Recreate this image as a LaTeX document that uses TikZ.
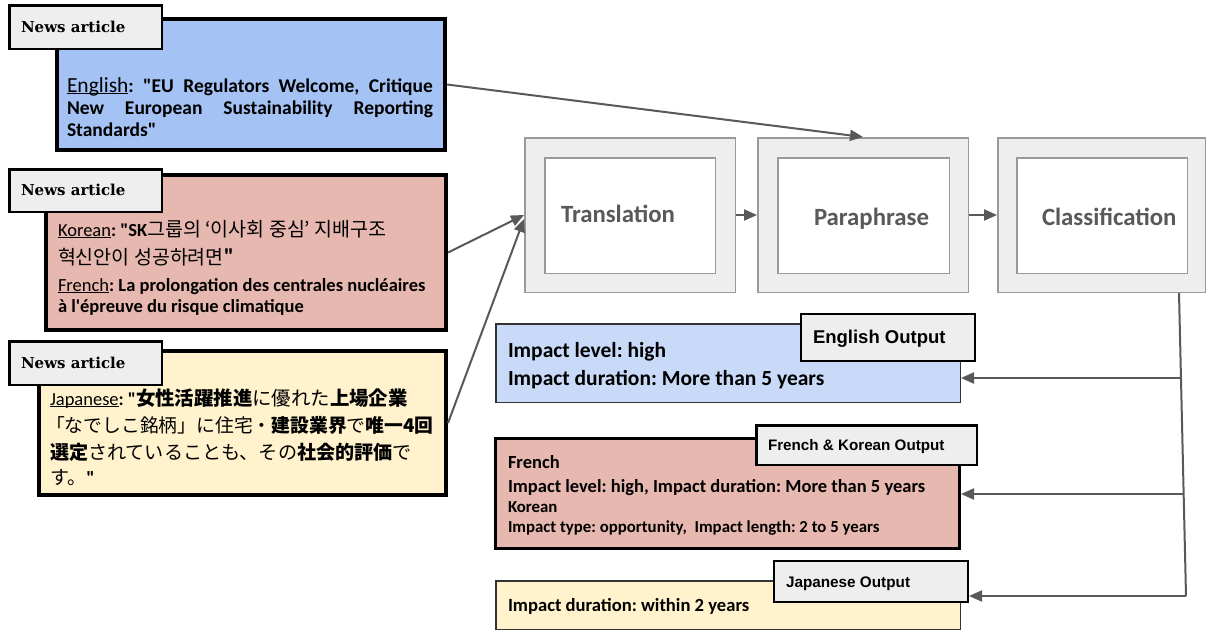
\documentclass[tikz,border=0pt]{standalone}
\usepackage{fontspec}
\usetikzlibrary{arrows.meta,calc}
\newfontfamily\calf{Carlito}
\newfontfamily\arf{Liberation Sans}
\newfontfamily\serf{DejaVu Serif}
\newfontfamily\krf{Noto Sans CJK KR}
\newfontfamily\jpf{Noto Sans CJK JP}
\AtBeginDocument{\frenchspacing}
\newcommand\myfs[1]{\fontsize{#1}{#1}\selectfont}
\newcommand\myul[1]{\setbox0\hbox{#1}\rlap{\rule[-2.4pt]{\wd0}{1.3pt}}\box0}
\definecolor{srcblue}{HTML}{A4C2F4}
\definecolor{outblue}{HTML}{C9DAF8}
\definecolor{srcpink}{HTML}{E6B8AF}
\definecolor{srcyellow}{HTML}{FFF2CC}
\definecolor{lblgray}{HTML}{EEEEEE}
\definecolor{procline}{HTML}{9A9A9A}
\definecolor{conn}{HTML}{595959}
\tikzset{
  srcbox/.style={draw=black, line width=4pt, anchor=north west, inner sep=0pt},
  lblbox/.style={draw=black, line width=2.5pt, fill=lblgray, anchor=north west, inner sep=0pt},
  procouter/.style={draw=procline, line width=1.5pt, fill=lblgray, anchor=north west, inner sep=0pt},
  procinner/.style={draw=procline, line width=1.5pt, fill=white, anchor=north west, inner sep=0pt},
  txt/.style={anchor=base west, inner sep=0pt, outer sep=0pt, execute at begin node=\frenchspacing},
  proctxt/.style={txt, text=conn, font=\calf\bfseries\myfs{24.8}},
  lbltxt/.style={txt, font=\serf\bfseries\myfs{15}},
  conarrow/.style={draw=conn, line width=2pt, -{Triangle[length=13pt,width=11pt]}},
  conline/.style={draw=conn, line width=2pt},
}
\begin{document}
\begin{tikzpicture}[x=1pt,y=-1pt]
\useasboundingbox (0,0) rectangle (1207,630);
\fill[white] (0,0) rectangle (1207,630);

% ---- source boxes
\node[srcbox, fill=srcblue, minimum width=388pt, minimum height=131pt] (eng) at (55,17) {};
\node[srcbox, fill=srcpink, minimum width=400pt, minimum height=155pt] (kor) at (44,173) {};
\node[srcbox, fill=srcyellow, minimum width=407pt, minimum height=144pt] (jap) at (37,349) {};

\node[lblbox, minimum width=152.5pt, minimum height=43.5pt] (lab1) at (8,4) {};
\node[lblbox, minimum width=152.5pt, minimum height=42.5pt] (lab2) at (8,168) {};
\node[lblbox, minimum width=152.5pt, minimum height=43.5pt] (lab3) at (8,340) {};
\node[lbltxt] (lab1t) at (21,32) {News article};
\node[lbltxt] (lab2t) at (21,195) {News article};
\node[lbltxt] (lab3t) at (21,368) {News article};

% English text
\node[txt] (e1) at (67,92) {\hbox to 366pt{\calf\myfs{21.5}\myul{English}\myfs{19.5}\bfseries:\hfill"EU\hfill Regulators\hfill Welcome,\hfill Critique}};
\node[txt] (e2) at (67,114) {\hbox to 366pt{\calf\bfseries\myfs{19.5}New\hfill European\hfill Sustainability\hfill Reporting}};
\node[txt] (e3) at (67,136) {\calf\bfseries\myfs{19.5}Standards"};

% Korean / French text
\node[txt] (k1) at (58,236) {{\calf\myfs{18.5}\myul{Korean}\bfseries: "SK}{\krf\myfs{19.5}그룹의 ‘이사회 중심’ 지배구조}};
\node[txt] (k2) at (58,264) {{\krf\myfs{19.5}혁신안이 성공하려면}{\calf\bfseries\myfs{23}"}};
\node[txt] (k3) at (58,291) {\calf\myfs{18.5}\myul{French}\bfseries: La prolongation des centrales nucléaires};
\node[txt] (k4) at (58,312) {\calf\bfseries\myfs{18.5}à l'épreuve du risque climatique};

% Japanese text
\node[txt] (j1) at (50,405) {{\calf\myfs{18.5}\myul{Japanese}\bfseries: "}{\jpf\myfs{19.4}\bfseries 女性活躍推進\mdseries に優れた\bfseries 上場企業}};
\node[txt] (j2) at (46,432) {\jpf\myfs{18.8}「なでしこ銘柄」に住宅・\bfseries 建設業界\mdseries で\bfseries 唯一4回};
\node[txt] (j3) at (50,459) {\jpf\myfs{19.1}\bfseries 選定\mdseries されていることも、その\bfseries 社会的評価\mdseries で};
\node[txt] (j4) at (50,484) {{\jpf\myfs{19.1}す。}{\calf\bfseries\myfs{19}"}};

% ---- process boxes
\node[procouter, minimum width=210.5pt, minimum height=154.5pt] (trans) at (524,137) {};
\node[procinner, minimum width=170.5pt, minimum height=115.5pt] (transin) at (544,157) {};
\node[procouter, minimum width=210.5pt, minimum height=154.5pt] (para) at (757,137) {};
\node[procinner, minimum width=171.5pt, minimum height=115.5pt] (parain) at (777,157) {};
\node[procouter, minimum width=207.5pt, minimum height=154.5pt] (cls) at (997,137) {};
\node[procinner, minimum width=170.5pt, minimum height=115.5pt] (clsin) at (1016,157) {};
\node[proctxt] (transt) at (561,222.5) {Translation};
\node[proctxt] (parat) at (814,225) {Paraphrase};
\node[proctxt] (clst) at (1042,225) {Classification};

% ---- output boxes
\node[anchor=north west, inner sep=0pt, draw=black!80, line width=1.5pt, fill=outblue, minimum width=464.5pt, minimum height=78.5pt] (engout) at (495,323) {};
\node[anchor=north west, inner sep=0pt, draw=black, line width=2pt, fill=lblgray, minimum width=174pt, minimum height=47pt] (englab) at (800,313) {};
\node[txt, font=\calf\bfseries\myfs{21.5}] (eo1) at (508,357) {Impact level: high};
\node[txt, font=\calf\bfseries\myfs{21.5}] (eo2) at (508,385) {Impact duration: More than 5 years};
\node[txt, font=\arf\bfseries\myfs{18.5}] (englabt) at (813,343) {English Output};

\node[anchor=north west, inner sep=0pt, draw=black, line width=3pt, fill=srcpink, minimum width=464pt, minimum height=110pt] (frout) at (494,437) {};
\node[anchor=north west, inner sep=0pt, draw=black, line width=2.5pt, fill=lblgray, minimum width=220.5pt, minimum height=39.5pt] (frlab) at (755,424) {};
\node[txt, font=\calf\bfseries\myfs{18.5}] (fo1) at (508,468) {French};
\node[txt, font=\calf\bfseries\myfs{18.5}] (fo2) at (508,492) {Impact level: high, Impact duration: More than 5 years};
\node[txt, font=\calf\bfseries\myfs{16.8}] (fo3) at (508,512) {Korean};
\node[txt, font=\calf\bfseries\myfs{16.8}] (fo4) at (508,532) {Impact type: opportunity,\ \ Impact length: 2 to 5 years};
\node[txt, font=\arf\bfseries\myfs{15.2}] (frlabt) at (768,450) {French \& Korean Output};

\node[anchor=north west, inner sep=0pt, draw=black!80, line width=1.5pt, fill=srcyellow, minimum width=464.5pt, minimum height=48.5pt] (jpout) at (495,580) {};
\node[anchor=north west, inner sep=0pt, draw=black, line width=2pt, fill=lblgray, minimum width=194pt, minimum height=41pt] (jplab) at (773,560) {};
\node[txt, font=\calf\bfseries\myfs{18.6}] (jo1) at (508,611) {Impact duration: within 2 years};
\node[txt, font=\arf\bfseries\myfs{15.3}] (jplabt) at (786,587) {Japanese Output};

% ---- connectors
\draw[conarrow] (eng.east) -- (para.north);
\draw[conarrow] (kor.east) -- (trans.west);
\draw[conarrow] (jap.east) -- ([yshift=-4pt]trans.west);
\draw[conarrow] (trans.east) -- (para.west);
\draw[conarrow] (para.east) -- (cls.west);

\coordinate (v1) at (1179,293);
\coordinate (v2) at (1186,596);
\coordinate (b1) at (1181,378);
\coordinate (b2) at (1183.5,494);
\draw[conline] (v1) -- (v2);
\draw[conarrow] (b1) -- (b1 -| engout.east);
\draw[conarrow] (b2) -- (b2 -| frout.east);
\draw[conarrow] (v2) -- (v2 -| jplab.east);
\end{tikzpicture}
\end{document}
